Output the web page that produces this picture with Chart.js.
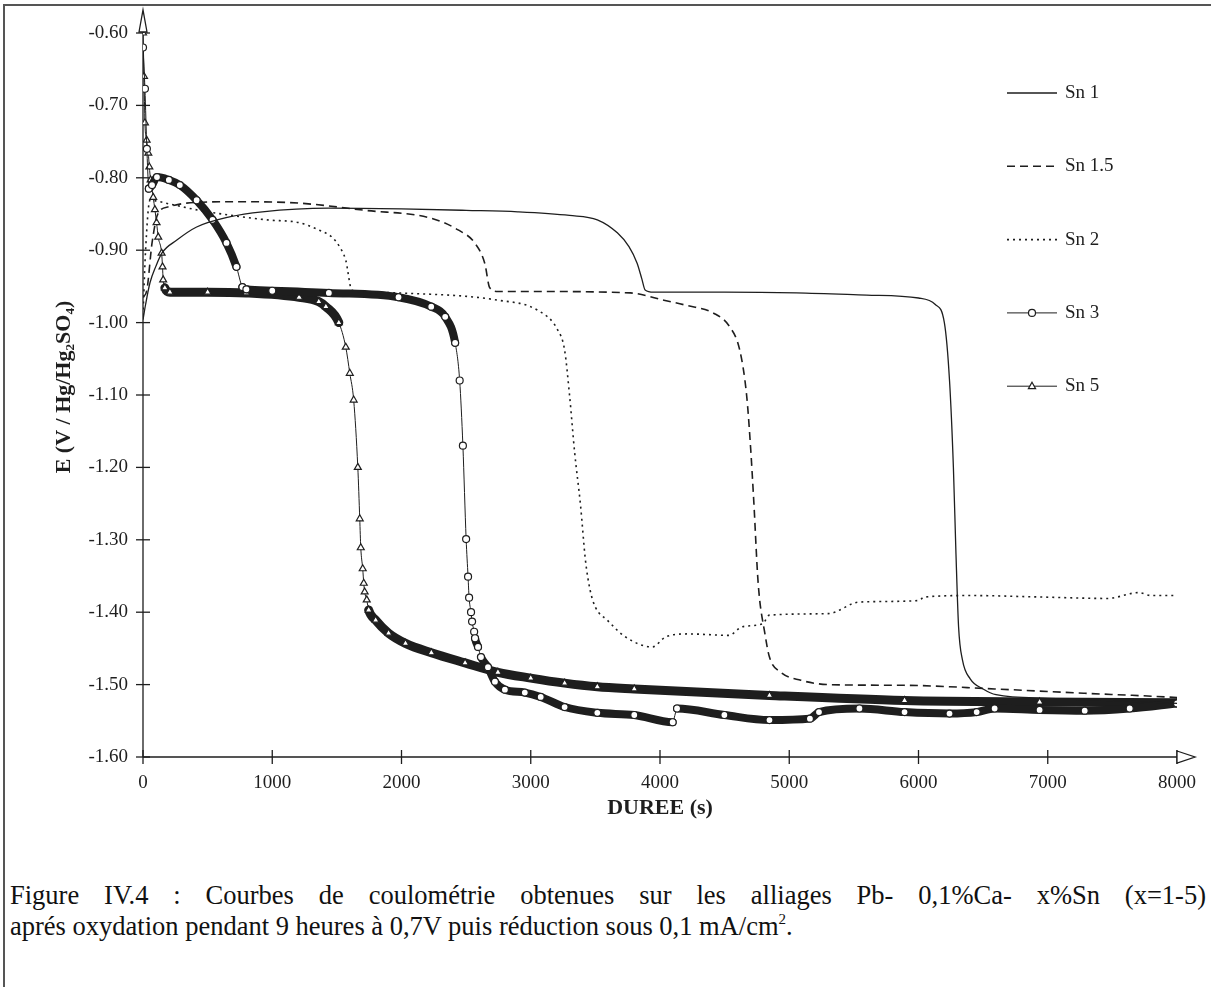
<!DOCTYPE html>
<html>
<head>
<meta charset="utf-8">
<script src="https://cdn.jsdelivr.net/npm/chart.js@4.4.0/dist/chart.umd.min.js"></script>
<style>
  body { margin: 0; background: #fff; }
  #wrap { position: relative; width: 1211px; height: 987px; overflow: hidden; background: #fff; }
  #frame { position: absolute; left: 3px; top: 4px; width: 1300px; height: 1100px; border-left: 2px solid #555; border-top: 2px solid #555; }
  #chart { position: absolute; left: 0; top: 0; }
  .cap { position: absolute; left: 10px; width: 1196px; font: 26.5px "Liberation Serif", "Times New Roman", serif; color: #111; line-height: 31px; }
  #cap1 { top: 880px; text-align: justify; text-align-last: justify; }
  #cap2 { top: 911px; white-space: nowrap; }
  sup { font-size: 15px; line-height: 0; vertical-align: 11px; }
</style>
</head>
<body>
<div id="wrap">
  <div id="frame"></div>
  <canvas id="chart" width="1211" height="860"></canvas>
  <div class="cap" id="cap1">Figure IV.4 : Courbes de coulométrie obtenues sur les alliages Pb- 0,1%Ca- x%Sn (x=1-5)</div>
  <div class="cap" id="cap2">aprés oxydation pendant 9 heures à 0,7V puis réduction sous 0,1 mA/cm<sup>2</sup>.</div>
</div>
<script>
// durée (s), E (V / Hg/Hg2SO4)
const sn1 = [[0,-0.996],[20,-0.975],[54,-0.945],[100,-0.922],[146,-0.904],[262,-0.886],[415,-0.868],[669,-0.854],[923,-0.847],[1438,-0.842],[2000,-0.843],[2500,-0.845],[2900,-0.847],[3300,-0.852],[3515,-0.858],[3670,-0.876],[3760,-0.895],[3823,-0.918],[3860,-0.940],[3885,-0.955],[3950,-0.958],[4500,-0.958],[5054,-0.959],[5600,-0.962],[6000,-0.966],[6130,-0.975],[6200,-1.00],[6240,-1.08],[6270,-1.20],[6290,-1.32],[6310,-1.42],[6340,-1.466],[6400,-1.492],[6500,-1.506],[6600,-1.514],[7000,-1.519],[7500,-1.522],[8000,-1.526]];
const sn15 = [[0,-0.965],[30,-0.955],[70,-0.89],[117,-0.849],[200,-0.840],[337,-0.835],[700,-0.833],[1208,-0.835],[1720,-0.845],[2234,-0.856],[2438,-0.872],[2567,-0.890],[2644,-0.918],[2683,-0.952],[2746,-0.957],[3000,-0.957],[3770,-0.959],[4030,-0.969],[4200,-0.976],[4415,-0.987],[4540,-1.006],[4617,-1.038],[4670,-1.10],[4700,-1.17],[4725,-1.245],[4760,-1.361],[4812,-1.430],[4847,-1.462],[4934,-1.483],[5090,-1.494],[5300,-1.500],[5892,-1.501],[6590,-1.506],[7286,-1.512],[7913,-1.517],[8000,-1.518]];
const sn2 = [[0,-0.99],[20,-0.90],[54,-0.831],[200,-0.836],[438,-0.845],[953,-0.858],[1208,-0.862],[1360,-0.872],[1462,-0.882],[1520,-0.895],[1569,-0.914],[1615,-0.955],[1700,-0.958],[1977,-0.959],[2746,-0.969],[3054,-0.983],[3208,-1.010],[3262,-1.038],[3300,-1.10],[3340,-1.18],[3385,-1.252],[3423,-1.328],[3460,-1.37],[3500,-1.393],[3592,-1.411],[3732,-1.434],[3941,-1.448],[4045,-1.434],[4220,-1.430],[4533,-1.432],[4638,-1.420],[4794,-1.416],[4847,-1.404],[5300,-1.402],[5543,-1.386],[5996,-1.384],[6049,-1.379],[6415,-1.377],[6937,-1.379],[7460,-1.381],[7704,-1.373],[7800,-1.377],[8000,-1.377]];
const sn3 = [[0,-0.62],[15,-0.677],[30,-0.76],[45,-0.815],[70,-0.81],[108,-0.799],[200,-0.803],[285,-0.81],[415,-0.831],[538,-0.858],[646,-0.89],[723,-0.923],[769,-0.951],[800,-0.954],[1000,-0.956],[1438,-0.959],[1977,-0.965],[2230,-0.978],[2338,-0.992],[2415,-1.028],[2450,-1.08],[2475,-1.17],[2500,-1.299],[2515,-1.351],[2523,-1.38],[2538,-1.40],[2546,-1.413],[2562,-1.427],[2569,-1.436],[2592,-1.448],[2615,-1.462],[2669,-1.476],[2723,-1.496],[2800,-1.507],[2954,-1.511],[3077,-1.517],[3262,-1.531],[3515,-1.539],[3801,-1.542],[4098,-1.552],[4132,-1.533],[4498,-1.542],[4847,-1.549],[5160,-1.547],[5230,-1.538],[5543,-1.533],[5892,-1.538],[6240,-1.540],[6450,-1.538],[6589,-1.533],[6937,-1.535],[7286,-1.536],[7634,-1.533],[8000,-1.526]];
const sn5 = [[0,-0.60],[8,-0.66],[15,-0.724],[28,-0.748],[41,-0.766],[49,-0.785],[59,-0.803],[79,-0.827],[92,-0.844],[105,-0.862],[118,-0.882],[144,-0.904],[151,-0.923],[156,-0.941],[169,-0.952],[208,-0.958],[500,-0.958],[800,-0.959],[1208,-0.965],[1360,-0.971],[1415,-0.978],[1515,-1.0],[1569,-1.034],[1600,-1.07],[1630,-1.107],[1662,-1.20],[1677,-1.271],[1685,-1.311],[1700,-1.340],[1708,-1.36],[1715,-1.372],[1731,-1.383],[1746,-1.397],[1800,-1.411],[1900,-1.429],[2031,-1.443],[2231,-1.456],[2492,-1.47],[2746,-1.483],[3000,-1.491],[3262,-1.498],[3515,-1.503],[3801,-1.506],[4847,-1.515],[5892,-1.522],[6937,-1.524],[8000,-1.525]];

const seriesLabels = ['Sn 1', 'Sn 1.5', 'Sn 2', 'Sn 3', 'Sn 5'];
const xTickValues = [0, 1000, 2000, 3000, 4000, 5000, 6000, 7000, 8000];
const yTickValues = [-0.6, -0.7, -0.8, -0.9, -1.0, -1.1, -1.2, -1.3, -1.4, -1.5, -1.6];
const xTitle = 'DUREE (s)';
const yTitle = 'E (V / Hg/Hg\u2082SO\u2084)';

const ink = '#1e1e1e';
const serif = '"Liberation Serif", "Times New Roman", serif';

const toPts = arr => arr.map(p => ({ x: p[0], y: p[1] }));

// thick band where the markers pile up (flat parts), thin line on the fast drops
const bandWidth = w => ({
  borderWidth: ctx => {
    const dx = Math.abs(ctx.p1.x - ctx.p0.x), dy = Math.abs(ctx.p1.y - ctx.p0.y);
    return dy > 3 * dx ? 1 : w;
  }
});

const datasets = [
  { label: seriesLabels[0], data: toPts(sn1), borderWidth: 1.3, borderDash: [], pointRadius: 0 },
  { label: seriesLabels[1], data: toPts(sn15), borderWidth: 1.6, borderDash: [8, 5], pointRadius: 0 },
  { label: seriesLabels[2], data: toPts(sn2), borderWidth: 1.6, borderDash: [2, 4], pointRadius: 0 },
  { label: seriesLabels[3], data: toPts(sn3), borderWidth: 1, borderDash: [], pointRadius: 3.5, pointStyle: 'circle', segment: bandWidth(8), borderCapStyle: 'round', borderJoinStyle: 'round' },
  { label: seriesLabels[4], data: toPts(sn5), borderWidth: 1, borderDash: [], pointRadius: 4, pointStyle: 'triangle', segment: bandWidth(9), borderCapStyle: 'round', borderJoinStyle: 'round' }
].map(d => Object.assign({
  borderColor: ink,
  pointBorderColor: ink,
  pointBackgroundColor: '#fff',
  pointBorderWidth: 1.2,
  pointHoverRadius: 0,
  cubicInterpolationMode: 'monotone',
  fill: false
}, d));

function drawMarker(ctx, style, x, y, r) {
  ctx.beginPath();
  if (style === 'circle') {
    ctx.arc(x, y, r, 0, Math.PI * 2);
  } else if (style === 'triangle') {
    ctx.moveTo(x, y - r);
    ctx.lineTo(x + r * 0.9, y + r * 0.6);
    ctx.lineTo(x - r * 0.9, y + r * 0.6);
    ctx.closePath();
  }
  ctx.fillStyle = '#fff';
  ctx.fill();
  ctx.stroke();
}

// axes with cross ticks and open arrow heads, plus the axis titles
const axesPlugin = {
  id: 'axesPlugin',
  beforeDatasetsDraw(chart) {
    const { ctx, chartArea: a, scales: { x, y } } = chart;
    ctx.save();
    ctx.strokeStyle = ink;
    ctx.lineWidth = 1.3;
    ctx.beginPath();
    ctx.moveTo(a.left, a.bottom);
    ctx.lineTo(a.left, a.top - 20);
    ctx.moveTo(a.left, a.bottom);
    ctx.lineTo(a.right + 14, a.bottom);
    ctx.stroke();
    y.ticks.forEach(t => {
      const py = y.getPixelForValue(t.value);
      ctx.beginPath(); ctx.moveTo(a.left - 7, py); ctx.lineTo(a.left + 7, py); ctx.stroke();
    });
    x.ticks.forEach(t => {
      const px = x.getPixelForValue(t.value);
      ctx.beginPath(); ctx.moveTo(px, a.bottom - 7); ctx.lineTo(px, a.bottom + 7); ctx.stroke();
    });
    // arrow heads
    ctx.fillStyle = '#fff';
    ctx.beginPath();
    ctx.moveTo(a.left - 4, a.top - 1);
    ctx.lineTo(a.left, a.top - 23);
    ctx.lineTo(a.left + 4, a.top - 1);
    ctx.closePath(); ctx.fill(); ctx.stroke();
    ctx.beginPath();
    ctx.moveTo(a.right, a.bottom - 6);
    ctx.lineTo(a.right + 18, a.bottom);
    ctx.lineTo(a.right, a.bottom + 6);
    ctx.closePath(); ctx.fill(); ctx.stroke();
    // titles
    ctx.fillStyle = ink;
    ctx.font = 'bold 22px ' + serif;
    ctx.textAlign = 'center';
    ctx.textBaseline = 'middle';
    ctx.fillText(xTitle, (a.left + a.right) / 2, a.bottom + 51);
    ctx.translate(64, (a.top + a.bottom) / 2 - 8);
    ctx.rotate(-Math.PI / 2);
    ctx.fillText(yTitle, 0, 0);
    ctx.restore();
  }
};

// legend drawn inside the plot area, one entry per line
const legendPlugin = {
  id: 'legendPlugin',
  afterDraw(chart) {
    const { ctx, chartArea: a } = chart;
    ctx.save();
    chart.data.datasets.forEach((d, i) => {
      const yy = a.top + 60 + i * 73.3;
      const x0 = a.right - 170, x1 = a.right - 120;
      ctx.strokeStyle = ink;
      ctx.lineWidth = d.pointStyle ? 1 : d.borderWidth;
      ctx.setLineDash(d.borderDash || []);
      ctx.beginPath(); ctx.moveTo(x0, yy); ctx.lineTo(x1, yy); ctx.stroke();
      ctx.setLineDash([]);
      if (d.pointStyle) {
        ctx.lineWidth = 1.2;
        drawMarker(ctx, d.pointStyle, (x0 + x1) / 2, yy, d.pointRadius);
      }
      ctx.fillStyle = ink;
      ctx.font = '19px ' + serif;
      ctx.textAlign = 'left';
      ctx.textBaseline = 'middle';
      ctx.fillText(d.label, x1 + 8, yy);
    });
    ctx.restore();
  }
};

new Chart(document.getElementById('chart'), {
  type: 'line',
  data: { datasets },
  options: {
    responsive: false,
    animation: false,
    events: [],
    layout: { padding: { left: 0, top: 33, right: 28, bottom: 0 } },
    plugins: { legend: { display: false }, tooltip: { enabled: false } },
    scales: {
      x: {
        type: 'linear',
        min: 0,
        max: 8000,
        grid: { display: false, drawTicks: false },
        border: { display: false },
        afterBuildTicks: s => { s.ticks = xTickValues.map(v => ({ value: v })); },
        afterFit: s => { s.height = 103; },
        ticks: {
          padding: 15,
          color: ink,
          font: { family: serif, size: 19 },
          maxRotation: 0,
          callback: v => String(v)
        }
      },
      y: {
        type: 'linear',
        min: -1.6,
        max: -0.6,
        grid: { display: false, drawTicks: false },
        border: { display: false },
        afterBuildTicks: s => { s.ticks = yTickValues.map(v => ({ value: v })); },
        afterFit: s => { s.width = 143; },
        ticks: {
          padding: 15,
          color: ink,
          font: { family: serif, size: 19 },
          callback: v => Number(v).toFixed(2)
        }
      }
    }
  },
  plugins: [axesPlugin, legendPlugin]
});
</script>
</body>
</html>
